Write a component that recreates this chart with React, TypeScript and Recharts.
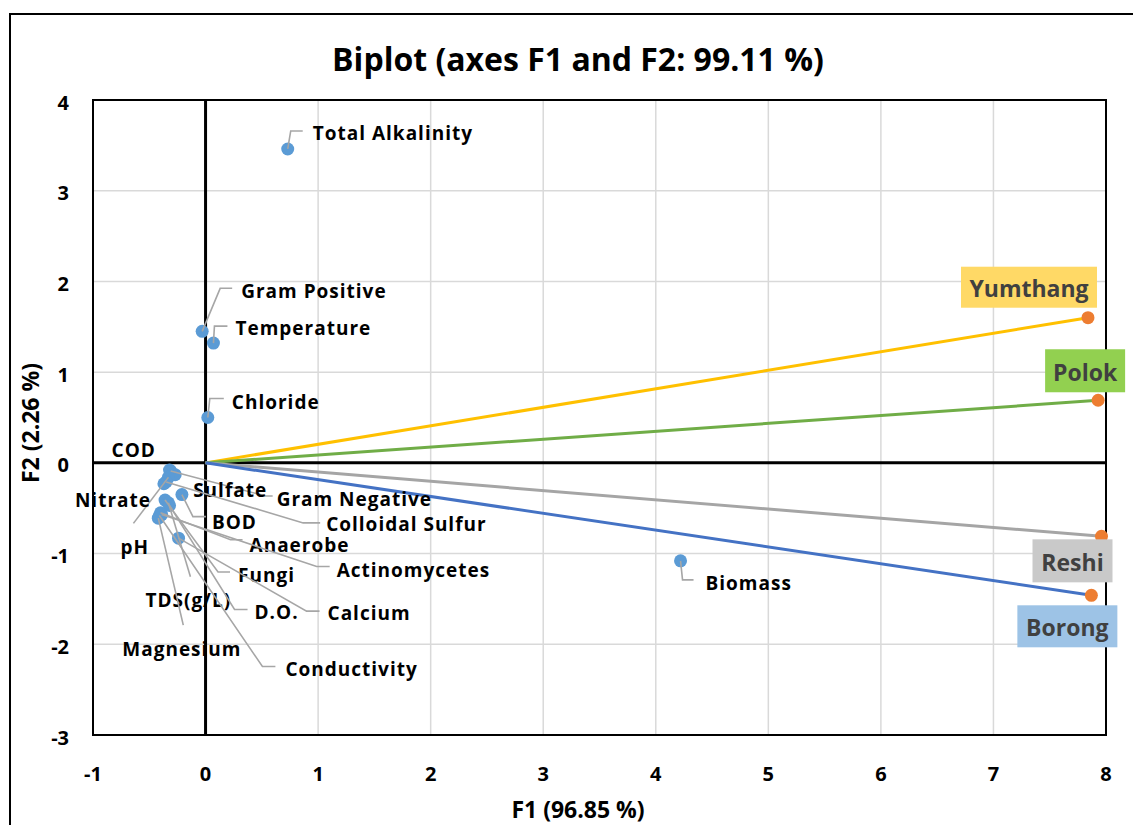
import React from "react";
import {
  CartesianGrid,
  ReferenceArea,
  ReferenceLine,
  Scatter,
  ScatterChart,
  XAxis,
  YAxis,
} from "recharts";

// variables (loadings)
const varNames = [
  "Total Alkalinity", "Gram Positive", "Temperature", "Chloride", "Biomass",
  "COD", "Gram Negative", "Sulfate", "pH", "Colloidal Sulfur", "Nitrate",
  "BOD", "Fungi", "TDS(g/L)", "D.O.", "Anaerobe", "Actinomycetes",
  "Conductivity", "Magnesium", "Calcium",
];
const varF1 = [0.73, -0.03, 0.07, 0.02, 4.22, -0.32, -0.31, -0.27, -0.33, -0.35, -0.37, -0.21, -0.36, -0.33, -0.32, -0.4, -0.39, -0.41, -0.42, -0.24];
const varF2 = [3.46, 1.45, 1.32, 0.5, -1.08, -0.08, -0.09, -0.13, -0.16, -0.21, -0.23, -0.35, -0.41, -0.44, -0.47, -0.55, -0.57, -0.58, -0.61, -0.83];

// observations (sites)
const obsNames = ["Yumthang", "Polok", "Reshi", "Borong"];
const obsF1 = [7.84, 7.93, 7.96, 7.87];
const obsF2 = [1.6, 0.69, -0.81, -1.46];

const xTicks = [-1, 0, 1, 2, 3, 4, 5, 6, 7, 8];
const yTicks = [-3, -2, -1, 0, 1, 2, 3, 4];

const varData = varNames.map((name, i) => ({ name, x: varF1[i], y: varF2[i] }));
const obsData = obsNames.map((name, i) => ({ name, x: obsF1[i], y: obsF2[i] }));

// label placement (px offsets from the point), leader elbows
const labelLayout: Record<string, { dx: number; dy: number; lead?: number[][] }> = {
  "Total Alkalinity": { dx: 25, dy: -16, lead: [[3, -18], [15, -18]] },
  "Gram Positive": { dx: 39, dy: -40, lead: [[18, -43], [30, -43]] },
  Temperature: { dx: 22, dy: -15, lead: [[1, -17], [14, -17]] },
  Chloride: { dx: 24, dy: -16, lead: [[2, -19], [16, -19]] },
  Biomass: { dx: 25, dy: 22, lead: [[2, 19], [13, 19]] },
  COD: { dx: -58, dy: -20 },
  "Gram Negative": { dx: 106, dy: 28, lead: [[95, 25], [102, 25]] },
  Sulfate: { dx: 18, dy: 15 },
  pH: { dx: -48, dy: 70, lead: [[-35, 46]] },
  "Colloidal Sulfur": { dx: 160, dy: 42, lead: [[137, 41], [154, 41]] },
  Nitrate: { dx: -89, dy: 16 },
  BOD: { dx: 30, dy: 27, lead: [[11, 22], [24, 22]] },
  Fungi: { dx: 73, dy: 75, lead: [[53, 72], [65, 72]] },
  "TDS(g/L)": { dx: -23, dy: 97, lead: [[22, 74]] },
  "D.O.": { dx: 85, dy: 107, lead: [[65, 104], [78, 104]] },
  Anaerobe: { dx: 89, dy: 32, lead: [[70, 27], [82, 27]] },
  Actinomycetes: { dx: 175, dy: 55, lead: [[155, 52], [168, 52]] },
  Conductivity: { dx: 126, dy: 154, lead: [[103, 151], [116, 151]] },
  Magnesium: { dx: -36, dy: 131, lead: [[25, 107]] },
  Calcium: { dx: 149, dy: 75, lead: [[128, 73], [141, 73]] },
};

const obsStyle: Record<string, { line: string; box: string; bx: number; by: number; bw: number; bh: number }> = {
  Yumthang: { line: "#FFC000", box: "#FFD966", bx: -127, by: -51, bw: 136, bh: 41 },
  Polok: { line: "#70AD47", box: "#92D050", bx: -53, by: -51, bw: 80, bh: 43 },
  Reshi: { line: "#A5A5A5", box: "#C9C9C9", bx: -69, by: 3, bw: 80, bh: 43 },
  Borong: { line: "#4472C4", box: "#9DC3E6", bx: -74, by: 10, bw: 100, bh: 42 },
};

const labelFont = "'Open Sans', 'DejaVu Sans', sans-serif";
const narrowFont = "'Liberation Sans Narrow', 'Open Sans', sans-serif";

const XTick = (props: any) => (
  <text
    x={props.x}
    y={props.y + 38}
    textAnchor="middle"
    dominantBaseline="central"
    style={{ fontFamily: labelFont, fontWeight: 700, fontSize: 20, fill: "#000" }}
  >
    {props.payload.value}
  </text>
);

const YTick = (props: any) => (
  <text
    x={props.x - 24}
    y={props.y + 2}
    textAnchor="end"
    dominantBaseline="central"
    style={{ fontFamily: labelFont, fontWeight: 700, fontSize: 20, fill: "#000" }}
  >
    {props.payload.value}
  </text>
);

const VarDot = (props: any) => <circle cx={props.cx} cy={props.cy} r={6.5} fill="#5B9BD5" />;

const VarLabel = (props: any) => {
  const { cx, cy, payload } = props;
  const l = labelLayout[payload.name];
  const pts = [[0, 0], ...(l.lead ?? [])].map(([a, b]) => `${cx + a},${cy + b}`).join(" ");
  return (
    <g>
      {l.lead && <polyline points={pts} fill="none" stroke="#A6A6A6" strokeWidth={1.6} />}
      <text
        x={cx + l.dx}
        y={cy + l.dy}
        dominantBaseline="central"
        style={{ fontFamily: labelFont, fontWeight: 700, fontSize: 19, letterSpacing: 1, fill: "#000" }}
      >
        {payload.name}
      </text>
    </g>
  );
};

const ObsPoint = (props: any) => {
  const { cx, cy, payload } = props;
  const s = obsStyle[payload.name];
  return (
    <g>
      <circle cx={cx} cy={cy} r={6.5} fill="#ED7D31" />
      <rect x={cx + s.bx} y={cy + s.by} width={s.bw} height={s.bh} fill={s.box} />
      <text
        x={cx + s.bx + s.bw / 2}
        y={cy + s.by + s.bh / 2 + 1}
        textAnchor="middle"
        dominantBaseline="central"
        style={{ fontFamily: labelFont, fontWeight: 700, fontSize: 23, fill: "#404040" }}
      >
        {payload.name}
      </text>
    </g>
  );
};

export default function App() {
  return (
    <div
      style={{
        position: "absolute",
        left: 9,
        top: 13,
        width: 1124,
        height: 812,
        borderTop: "2px solid #000",
        borderLeft: "2px solid #000",
        background: "#fff",
      }}
    >
      <div
        style={{
          position: "absolute",
          left: 0,
          width: 1134,
          top: 22,
          textAlign: "center",
          fontFamily: narrowFont,
          fontWeight: 700,
          fontSize: 32,
        }}
      >
        Biplot (axes F1 and F2: 99.11 %)
      </div>
      <div
        style={{
          position: "absolute",
          left: 367,
          width: 400,
          top: 778,
          textAlign: "center",
          fontFamily: narrowFont,
          fontWeight: 700,
          fontSize: 23,
        }}
      >
        F1 (96.85 %)
      </div>
      <div
        style={{
          position: "absolute",
          left: -181,
          top: 392,
          width: 400,
          textAlign: "center",
          transform: "rotate(-90deg)",
          fontFamily: narrowFont,
          fontWeight: 700,
          fontSize: 23,
        }}
      >
        F2 (2.26 %)
      </div>
      <ScatterChart width={1122} height={810} margin={{ top: 85, right: 27, bottom: 30, left: 20 }}>
        <CartesianGrid stroke="#D9D9D9" strokeWidth={1.5} />
        <XAxis
          type="number"
          dataKey="x"
          domain={[-1, 8]}
          ticks={xTicks}
          tick={<XTick />}
          axisLine={false}
          tickLine={false}
          tickSize={0}
          tickMargin={0}
          height={60}
        />
        <YAxis
          type="number"
          dataKey="y"
          domain={[-3, 4]}
          ticks={yTicks}
          tick={<YTick />}
          axisLine={false}
          tickLine={false}
          tickSize={0}
          tickMargin={0}
          width={62}
        />
        <ReferenceArea x1={-1} x2={8} y1={-3} y2={4} fill="none" stroke="#000" strokeWidth={2} ifOverflow="visible" />
        <ReferenceLine x={0} stroke="#000" strokeWidth={3} />
        <ReferenceLine y={0} stroke="#000" strokeWidth={3} />
        {obsNames.map((name, i) => (
          <ReferenceLine
            key={name}
            segment={[{ x: 0, y: 0 }, { x: obsF1[i], y: obsF2[i] }]}
            stroke={obsStyle[name].line}
            strokeWidth={3}
            ifOverflow="visible"
          />
        ))}
        <Scatter data={varData} shape={VarDot} isAnimationActive={false} />
        <Scatter data={varData} shape={VarLabel} isAnimationActive={false} />
        <Scatter data={obsData} shape={ObsPoint} isAnimationActive={false} />
      </ScatterChart>
    </div>
  );
}
